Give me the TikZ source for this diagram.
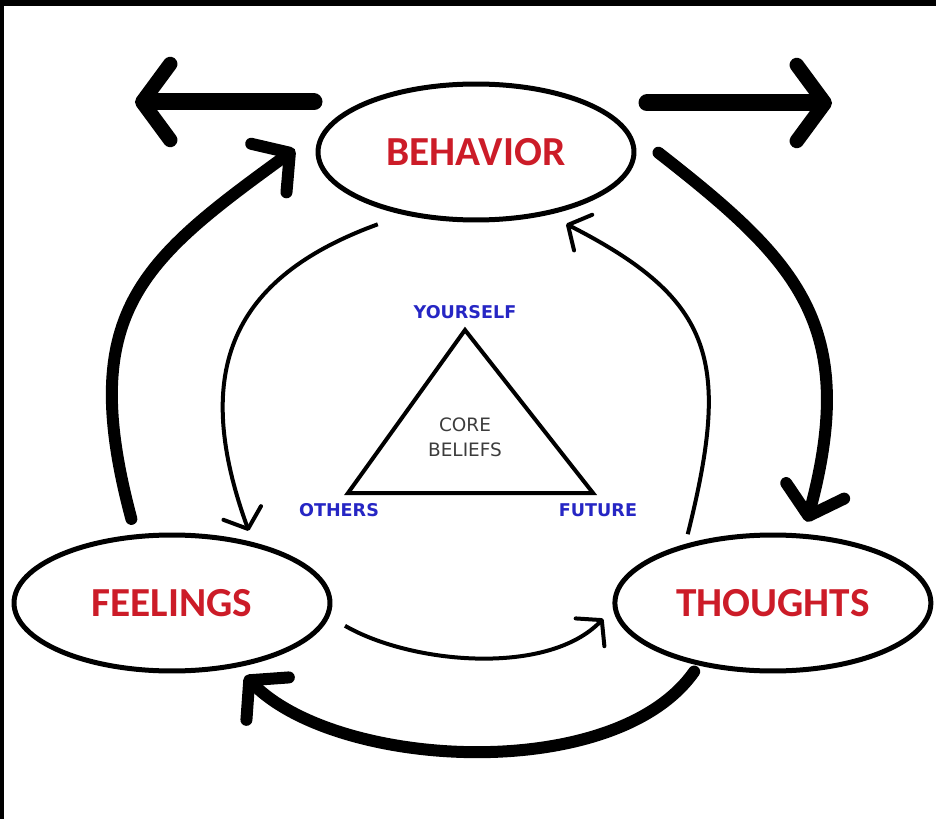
\documentclass[tikz,border=0pt]{standalone}
\usepackage{fontspec}
\usepackage{xcolor}
\usepackage{tikz}
\usetikzlibrary{
    arrows.meta,
    positioning,
    shapes.geometric
}
\newfontfamily\statefont{Carlito}
\newfontfamily\cornerfont{DejaVu Sans}
\definecolor{statered}{RGB}{204,28,40}
\definecolor{cornerblue}{RGB}{38,38,196}
\definecolor{coregray}{RGB}{60,60,60}
\tikzset{
    cyclestate/.style={
        ellipse,
        draw,
        line width=0.1cm,
        minimum width=6.32cm,
        minimum height=2.72cm,
        inner sep=0pt,
        text=statered,
        font=\statefont\bfseries\fontsize{23.5}{28}\selectfont
    }
}
\tikzset{
    cornerlabel/.style={
        inner sep=0pt,
        text=cornerblue,
        font=\cornerfont\bfseries\fontsize{10}{12}\selectfont
    }
}
\tikzset{
    corelabel/.style={
        align=center,
        inner sep=0pt,
        text=coregray,
        font=\cornerfont\fontsize{10.5}{14.2}\selectfont
    }
}
\tikzset{
    cycleflow/.style={
        draw=black,
        line width=0.24cm,
        line cap=round,
        -{Straight Barb[length=0.52cm, width=1.2cm, round]}
    }
}
\tikzset{
    innerflow/.style={
        draw=black,
        line width=0.08cm,
        -{Straight Barb[length=0.34cm, width=0.8cm, round]}
    }
}
\tikzset{
    outflow/.style={
        draw=black,
        line width=0.34cm,
        line cap=round,
        -{Straight Barb[length=0.56cm, width=1.52cm, round, line width=0pt 0.85]}
    }
}
\tikzset{
    beliefedge/.style={
        draw=black,
        line width=0.08cm,
        line join=miter
    }
}

\begin{document}
\begin{tikzpicture}[x=0.02cm, y=0.02cm]
\useasboundingbox (0,0) rectangle (936,819);

% frame on top and left
\fill[black] (0,813) rectangle (936,819);
\fill[black] (0,0) rectangle (4,819);

\node[cyclestate] (beh) at (476,667) {BEHAVIOR};
\node[cyclestate] (feel) at (172,216) {FEELINGS};
\node[cyclestate, right=5.6cm of feel] (thou) {THOUGHTS};

% core beliefs triangle
\coordinate (yourself) at (465,489);
\coordinate (others) at (348,326);
\coordinate (future) at (593,326);
\draw[beliefedge] (yourself) -- (others) -- (future) -- cycle;

\node[cornerlabel, above=0.21cm of yourself] (lblyourself) {YOURSELF};
\node[cornerlabel, below=0.21cm of others, xshift=-0.18cm] (lblothers) {OTHERS};
\node[cornerlabel, below=0.21cm of future, xshift=0.1cm] (lblfuture) {FUTURE};
\node[corelabel] (core) at (465,382) {CORE\\BELIEFS};

% outer cycle
\draw[cycleflow, shorten <=0.32cm, shorten >=0.8cm]
    (feel.118) to[out=105, in=216, looseness=1.3] (beh.170);
\draw[cycleflow, shorten <=0.8cm, shorten >=0.25cm]
    (beh.9) to[out=-38, in=75, looseness=1.25] (thou.66);
\draw[cycleflow, shorten <=0.15cm, shorten >=0.24cm]
    (thou.220) to[out=235, in=-45, looseness=0.8] (feel.315);

% inner cycle
\draw[innerflow, shorten <=0.55cm, shorten >=0.24cm]
    (beh.221) to[out=200, in=110, looseness=1.3] (feel.37);
\draw[innerflow, shorten <=0.36cm, shorten >=0.28cm]
    (feel.355) to[out=-30, in=226, looseness=0.85] (thou.182);
\draw[innerflow, shorten <=0.2cm, shorten >=0.4cm]
    (thou.146) to[out=76, in=333, looseness=1.35] (beh.319);

% behavior going outwards
\coordinate (leftout) at (135,717);
\coordinate (rightout) at (832,716);
\draw[outflow] ([shift={(-162,50)}]beh.center) -- (leftout);
\draw[outflow] ([shift={(171,49)}]beh.center) -- (rightout);

\end{tikzpicture}
\end{document}
